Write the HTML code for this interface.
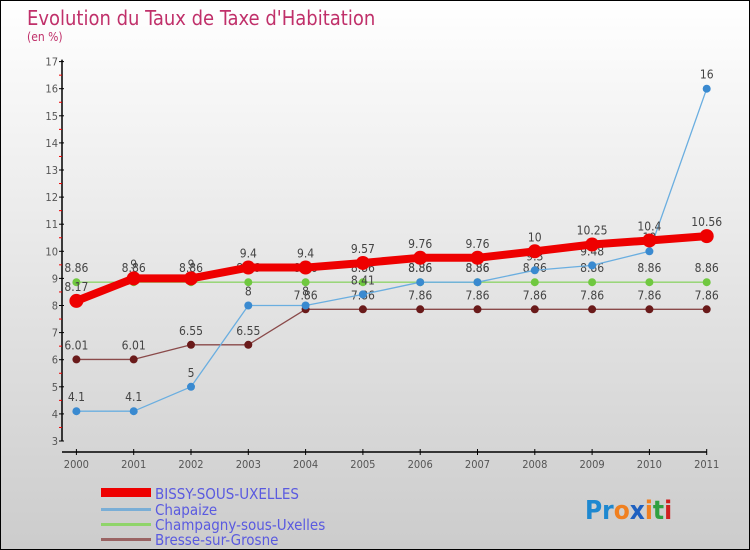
<!DOCTYPE html>
<html><head><meta charset="utf-8"><style>
body{margin:0}
#c{width:748px;height:548px;border:1px solid #000;background:linear-gradient(#fff,#ccc);position:relative;font-family:"DejaVu Sans Condensed","Liberation Sans",sans-serif;overflow:hidden}
text{font-family:"DejaVu Sans Condensed","Liberation Sans",sans-serif}
</style></head><body>
<div id="c">
<svg id="s" width="748" height="548">
<text x="26" y="24" font-size="20" fill="#c0306a">Evolution du Taux de Taxe d'Habitation</text>
<text x="26" y="40" font-size="12" fill="#c0306a">(en %)</text>
<g id="axes"></g><g id="series"></g>
<g>
<rect x="100" y="487" width="50" height="9" fill="#e00"/>
<text x="154" y="498" font-size="15" fill="#5a5ae0">BISSY-SOUS-UXELLES</text>
<rect x="100" y="507" width="50" height="3" fill="#7aaed6"/>
<text x="154" y="514" font-size="15" fill="#5a5ae0">Chapaize</text>
<rect x="100" y="522" width="50" height="3" fill="#8fd46a"/>
<text x="154" y="529" font-size="15" fill="#5a5ae0">Champagny-sous-Uxelles</text>
<rect x="100" y="537" width="50" height="3" fill="#9a6464"/>
<text x="154" y="544" font-size="15" fill="#5a5ae0">Bresse-sur-Grosne</text>
</g>
<text x="584" y="518" font-size="26" font-weight="bold"><tspan fill="#1e88d0">Pr</tspan><tspan fill="#f08020">o</tspan><tspan fill="#1e60c0">x</tspan><tspan fill="#f08020">i</tspan><tspan fill="#30a040">t</tspan><tspan fill="#d02020">i</tspan></text>
</svg></div>
<script>
const years=[2000,2001,2002,2003,2004,2005,2006,2007,2008,2009,2010,2011];
const yTicks=[3,4,5,6,7,8,9,10,11,12,13,14,15,16,17];
const bissy=[8.17,9,9,9.4,9.4,9.57,9.76,9.76,10,10.25,10.4,10.56];
const chapaize=[4.1,4.1,5,8,8,8.41,8.86,8.86,9.3,9.48,10,16];
const champagny=[8.86,8.86,8.86,8.86,8.86,8.86,8.86,8.86,8.86,8.86,8.86,8.86];
const bresse=[6.01,6.01,6.55,6.55,7.86,7.86,7.86,7.86,7.86,7.86,7.86,7.86];
const NS="http://www.w3.org/2000/svg";
const X=i=>75.4+i*57.3;
const Y=v=>440-(v-3)*27.1;
function mk(t,a,p){const e=document.createElementNS(NS,t);for(const k in a)e.setAttribute(k,a[k]);p.appendChild(e);return e;}
const ax=document.getElementById('axes');
let yl=mk('line',{x1:61,y1:Y(17)-2,x2:61,y2:Y(3),stroke:'#000','stroke-width':1.5},ax);


let xl=mk('line',{x1:61,y1:451,x2:X(11),y2:451,stroke:'#000','stroke-width':1.5},ax);


yTicks.forEach(v=>{
 mk('line',{x1:58,y1:Y(v),x2:63,y2:Y(v),stroke:'#000'},ax);
 if(v<17)mk('line',{x1:58,y1:Y(v+0.5),x2:61,y2:Y(v+0.5),stroke:'#e00'},ax);
 const t=mk('text',{x:57,y:Y(v)+4,'font-size':11,fill:'#555','text-anchor':'end'},ax);t.textContent=v;
 
 
});
years.forEach((y,i)=>{
 mk('line',{x1:X(i),y1:448,x2:X(i),y2:454,stroke:'#000'},ax);
 const t=mk('text',{x:X(i),y:467,'font-size':11,fill:'#555','text-anchor':'middle'},ax);t.textContent=y;
 
 
});
const sg=document.getElementById('series');
function draw(data,color,w,r,dot,name){
 const g=mk('g',{},sg);
 
 
 mk('polyline',{points:data.map((v,i)=>X(i)+','+Y(v)).join(' '),fill:'none',stroke:color,'stroke-width':w,'stroke-linejoin':'round'},g);
 data.forEach((v,i)=>{
  const c=mk('circle',{cx:X(i),cy:Y(v),r:r,fill:dot},g);
  
  
  const t=mk('text',{x:X(i),y:Y(v)-10,'font-size':12,fill:'#444','text-anchor':'middle'},g);t.textContent=v;
  
  
 });
}
draw(bresse,'#8a4a4a',1.3,4,'#6a1a1a','bresse');
draw(champagny,'#8fd46a',1.3,4,'#70c840','champagny');
draw(chapaize,'#6aaee0',1.3,4,'#3a8ad0','chapaize');
draw(bissy,'#ee0000',8,7,'#ee0000','bissy');
</script>
</body></html>
